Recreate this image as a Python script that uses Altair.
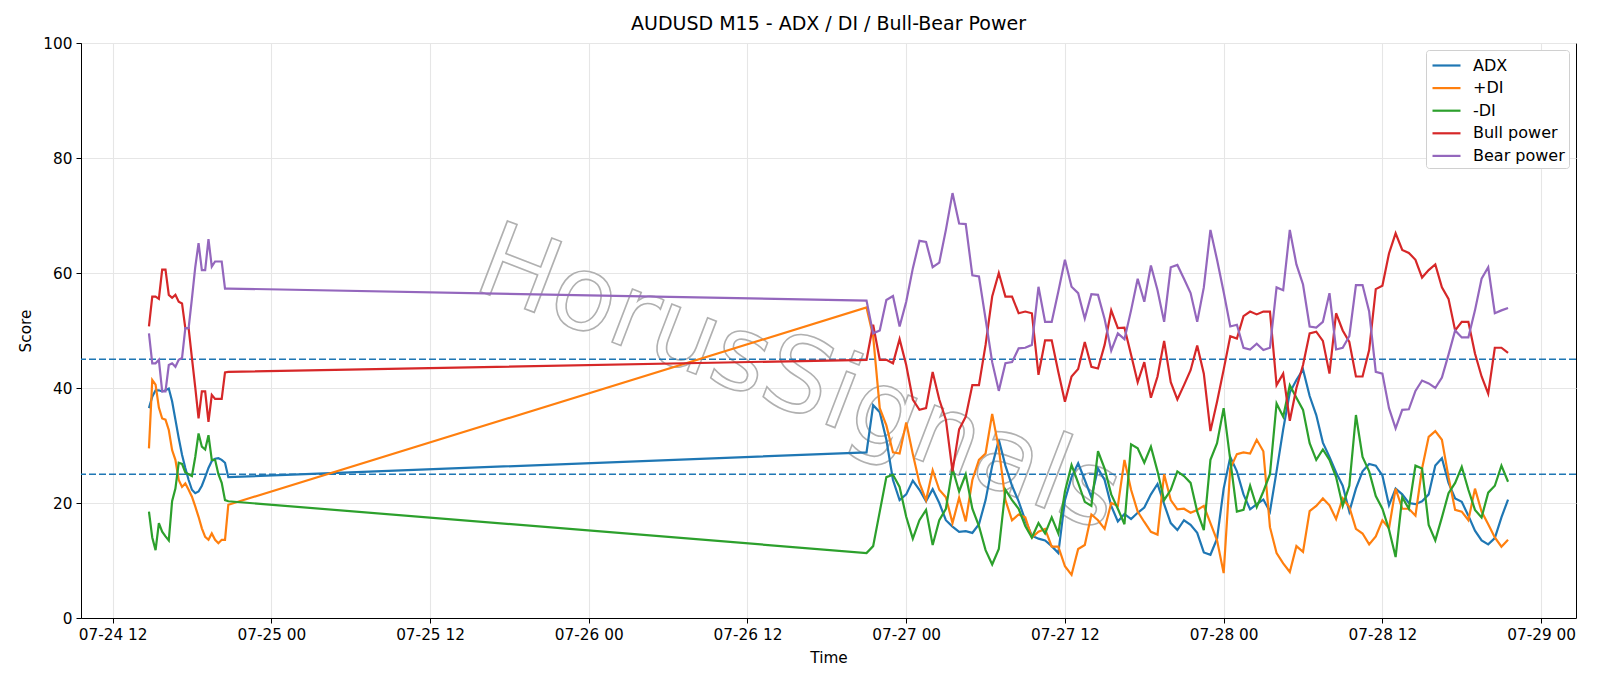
import altair as alt
import pandas as pd

# ---------------- data ----------------
series_names = ["ADX", "+DI", "-DI", "Bull power", "Bear power"]
series_colors = ["#1f77b4", "#ff7f0e", "#2ca02c", "#d62728", "#9467bd"]

# Friday session (15-minute bars, 07-24 14:45 -> 20:45 UTC)
seg1_start = "2020-07-24 14:45"
seg1_adx = [36.5, 38.5, 39.6, 39.6, 39.4, 39.6, 39.9, 37.7, 34.5, 31.3, 28.4, 26.1, 24.0,
            22.3, 21.7, 22.0, 23.0, 24.5, 26.1, 27.3, 27.7, 27.8, 27.5, 27.0, 24.5]
seg1_pdi = [29.5, 41.4, 40.6, 36.6, 34.7, 34.5, 32.7, 29.2, 27.5, 24.0, 22.8, 23.4, 22.3,
            21.1, 19.4, 17.6, 15.6, 14.1, 13.6, 14.7, 13.6, 13.0, 13.6, 13.6, 19.7]
seg1_mdi = [18.5, 14.0, 11.8, 16.5, 15.0, 14.2, 13.5, 20.3, 22.5, 27.0, 26.8, 25.3, 25.0,
            24.7, 28.0, 32.1, 29.8, 29.3, 31.8, 27.5, 27.5, 25.0, 23.5, 20.5, 20.3]
seg1_bull = [50.7, 55.9, 55.9, 55.5, 60.6, 60.6, 56.2, 55.7, 56.2, 55.0, 54.7, 50.4, 50.4,
             45.2, 40.1, 34.7, 39.4, 39.4, 34.1, 38.8, 38.1, 38.1, 38.1, 42.7, 42.8]
seg1_bear = [49.5, 44.3, 44.3, 44.9, 39.4, 39.4, 44.0, 44.3, 43.7, 44.9, 45.2, 50.4, 50.4,
             55.6, 61.0, 65.2, 60.5, 60.5, 65.9, 61.1, 62.0, 62.0, 62.0, 57.3, 57.3]

# Week session (read every 30 minutes, 07-26 21:00 -> 07-28 21:30 UTC)
seg2_start = "2020-07-26 21:00"
seg2_adx = [28.8, 37.0, 35.8, 31.0, 24.0, 20.5, 21.5, 23.9, 22.3, 20.3, 22.4, 20.0,
            17.0, 15.9, 15.0, 15.1, 14.8, 16.3, 20.5, 26.5, 31.0, 26.5, 23.0, 20.3,
            17.0, 14.3, 13.8, 13.5, 12.5, 11.3, 20.5, 24.5, 26.9, 24.0, 21.0, 26.0,
            24.0, 19.5, 16.8, 18.1, 17.2, 18.3, 19.2, 21.5, 23.3, 19.8, 16.5, 15.3,
            17.0, 16.2, 14.8, 11.4, 11.0, 13.8, 22.5, 28.0, 25.5, 21.5, 18.9, 19.8,
            20.6, 18.5, 25.5, 32.8, 39.2, 41.4, 43.2, 38.6, 35.3, 30.5, 28.0, 25.3,
            23.0, 18.5, 22.5, 25.5, 26.8, 26.5, 24.8, 19.6, 22.5, 21.5, 20.0, 19.8,
            20.3, 21.5, 26.5, 27.8, 23.5, 20.8, 20.2, 17.8, 15.2, 13.5, 12.8, 13.9, 17.5, 20.6]
seg2_pdi = [54.0, 49.0, 36.5, 33.5, 28.8, 28.6, 34.0, 28.5, 23.5, 20.5, 25.7, 22.3,
            21.0, 16.5, 20.9, 16.8, 24.0, 27.5, 28.6, 35.5, 29.5, 20.5, 17.0, 18.0,
            17.5, 14.0, 15.0, 15.5, 12.4, 12.4, 9.0, 7.5, 12.0, 12.7, 18.0, 17.0,
            15.5, 20.0, 19.5, 27.5, 22.3, 18.5, 16.7, 15.0, 14.5, 25.0, 20.5, 18.9,
            19.0, 18.3, 18.8, 19.5, 16.5, 13.5, 7.8, 26.0, 28.5, 28.8, 28.6, 31.0,
            29.0, 15.8, 11.3, 9.5, 8.0, 12.5, 11.5, 18.6, 19.5, 20.8, 19.6, 17.2,
            20.8, 19.3, 15.5, 14.7, 12.8, 14.2, 17.0, 15.6, 22.5, 19.0, 19.0, 17.8,
            26.0, 31.5, 32.5, 31.0, 24.5, 18.8, 18.5, 17.0, 22.5, 18.5, 16.3, 14.0, 12.4, 13.6]
seg2_mdi = [11.3, 12.5, 18.5, 24.5, 24.9, 22.8, 17.6, 13.8, 17.0, 18.8, 12.7, 17.0,
            19.0, 26.0, 22.0, 25.0, 19.0, 16.0, 11.8, 9.3, 12.0, 22.3, 20.5, 19.0,
            16.0, 14.0, 16.5, 14.7, 17.5, 14.7, 22.0, 26.6, 23.5, 20.2, 19.5, 29.0,
            26.0, 21.5, 19.0, 16.3, 30.2, 29.5, 27.0, 29.8, 25.5, 20.5, 22.3, 25.5,
            24.7, 23.5, 18.5, 15.3, 27.5, 30.4, 36.5, 27.5, 18.5, 18.8, 23.0, 19.3,
            22.0, 25.0, 37.3, 35.0, 40.5, 38.3, 36.2, 30.4, 27.5, 29.3, 27.5, 24.5,
            19.5, 23.0, 35.3, 28.0, 25.5, 21.2, 19.0, 15.4, 10.6, 21.0, 19.0, 26.5,
            26.0, 16.2, 13.5, 17.5, 21.7, 23.5, 26.3, 22.3, 18.8, 17.5, 21.8, 23.0, 26.5, 23.7]
seg2_bull = [44.9, 51.0, 44.9, 44.9, 44.3, 48.5, 44.0, 38.0, 36.2, 36.5, 42.8, 38.0,
             34.5, 25.5, 32.8, 35.0, 40.5, 40.5, 47.5, 55.9, 60.0, 55.9, 55.9, 53.0,
             53.3, 53.0, 42.3, 48.3, 48.3, 42.8, 37.6, 42.0, 43.3, 48.0, 43.7, 43.4,
             47.5, 53.5, 50.4, 50.5, 45.8, 41.0, 44.5, 38.3, 42.0, 48.2, 41.0, 38.0,
             40.5, 43.1, 47.4, 42.5, 32.5, 37.6, 43.2, 49.0, 48.6, 52.5, 53.3, 52.8,
             53.3, 53.3, 40.5, 42.5, 34.3, 40.0, 44.0, 49.5, 49.8, 48.2, 42.5, 53.0,
             50.0, 48.0, 42.0, 42.0, 46.6, 57.2, 57.8, 63.4, 66.9, 64.0, 63.5, 62.3,
             59.2, 60.5, 61.5, 57.5, 55.5, 50.0, 51.5, 51.5, 46.0, 42.0, 39.0, 47.0, 47.0, 46.1]
seg2_bear = [55.2, 49.5, 50.0, 55.3, 56.0, 50.7, 55.0, 60.8, 65.6, 65.4, 61.0, 61.8,
             67.5, 73.9, 68.6, 68.5, 59.6, 59.4, 52.0, 44.5, 39.5, 44.3, 44.5, 46.9,
             47.0, 47.5, 57.6, 51.5, 51.5, 56.8, 62.3, 57.6, 56.5, 52.1, 56.3, 56.2,
             52.0, 46.5, 49.5, 48.5, 53.5, 59.0, 55.0, 61.3, 57.0, 51.5, 61.0, 61.4,
             59.0, 56.5, 51.5, 57.5, 67.5, 62.3, 56.7, 50.7, 51.0, 47.0, 46.7, 47.7,
             46.6, 47.0, 57.5, 57.0, 67.5, 61.5, 58.0, 50.7, 50.5, 51.5, 56.5, 46.7,
             47.0, 49.0, 57.9, 57.9, 53.3, 42.8, 42.5, 36.5, 33.0, 36.2, 36.3, 39.5,
             41.3, 40.8, 40.0, 41.8, 45.8, 50.0, 48.8, 48.8, 53.5, 59.0, 61.0, 53.0, 53.5, 53.9]

threshold_values = [45, 25]

x_ticks = ["2020-07-24 12:00", "2020-07-25 00:00", "2020-07-25 12:00", "2020-07-26 00:00",
           "2020-07-26 12:00", "2020-07-27 00:00", "2020-07-27 12:00", "2020-07-28 00:00",
           "2020-07-28 12:00", "2020-07-29 00:00"]
x_domain = ["2020-07-24 09:36:45", "2020-07-29 02:38:15"]

watermark_text = ["HorusSignals"]
watermark_time = ["2020-07-25 15:05"]
watermark_score = [57.4]

# ---------------- build table ----------------
t1 = pd.date_range(seg1_start, periods=len(seg1_adx), freq="15min")
t2 = pd.date_range(seg2_start, periods=len(seg2_adx), freq="30min")
seg1 = [seg1_adx, seg1_pdi, seg1_mdi, seg1_bull, seg1_bear]
seg2 = [seg2_adx, seg2_pdi, seg2_mdi, seg2_bull, seg2_bear]
rows = []
for name, a, b in zip(series_names, seg1, seg2):
    for t, v in zip(t1, a):
        rows.append({"time": t.strftime("%Y-%m-%dT%H:%M:%SZ"), "series": name, "value": v})
    for t, v in zip(t2, b):
        rows.append({"time": t.strftime("%Y-%m-%dT%H:%M:%SZ"), "series": name, "value": v})
df = pd.DataFrame(rows)


def ms(s):
    return int(pd.Timestamp(s, tz="UTC").timestamp() * 1000)


tick_ms = [ms(s) for s in x_ticks]
dom_ms = [ms(s) for s in x_domain]

font = "DejaVu Sans"
fs = 15.3

x_axis = alt.Axis(values=tick_ms, labelExpr="utcFormat(datum.value, '%m-%d %H')",
                  title="Time", labelFlush=False, labelOverlap=False)
x_scale = alt.Scale(type="utc", domain=dom_ms)
y_scale = alt.Scale(domain=[0, 100], nice=False)
y_axis = alt.Axis(values=[0, 20, 40, 60, 80, 100], title="Score")

wm_df = pd.DataFrame({
    "text": watermark_text,
    "time": [pd.Timestamp(s).strftime("%Y-%m-%dT%H:%M:%SZ") for s in watermark_time],
    "value": watermark_score,
})

watermark = alt.Chart(wm_df).mark_text(
    font=font, fontSize=104, angle=21, fill="white", fillOpacity=0.4,
    stroke="#b0b0b0", strokeWidth=1.6, align="left", baseline="alphabetic",
).encode(
    x=alt.X("time:T", scale=x_scale, axis=x_axis),
    y=alt.Y("value:Q", scale=y_scale, axis=y_axis),
    text="text:N",
)

rules = alt.Chart(pd.DataFrame({"y": threshold_values})).mark_rule(
    color="#1f77b4", strokeDash=[7, 3], strokeWidth=1.5
).encode(y=alt.Y("y:Q", scale=y_scale, axis=y_axis))

lines = alt.Chart(df).mark_line(strokeWidth=2.2).encode(
    x=alt.X("time:T", scale=x_scale, axis=x_axis),
    y=alt.Y("value:Q", scale=y_scale, axis=y_axis),
    color=alt.Color(
        "series:N",
        scale=alt.Scale(domain=series_names, range=series_colors),
        legend=alt.Legend(title=None, orient="top-right", offset=7),
    ),
    detail="series:N",
)

chart = alt.layer(watermark, rules, lines).properties(
    width=1495,
    height=575,
    autosize=alt.AutoSizeParams(type="none"),
    padding={"left": 81, "top": 43, "right": 24, "bottom": 68},
    title=alt.TitleParams(
        "AUDUSD M15 - ADX / DI / Bull-Bear Power",
        fontSize=19, fontWeight="normal", font=font, anchor="middle", offset=2,
        color="black",
    ),
).configure_view(
    stroke="black", strokeWidth=1
).configure_axis(
    domainColor="black", tickColor="black", tickSize=5, labelColor="black",
    labelFont=font, labelFontSize=fs, labelPadding=4,
    titleFont=font, titleFontSize=fs, titleFontWeight="normal", titleColor="black",
    gridColor="#e6e6e6", gridWidth=1.1,
).configure_axisX(
    titlePadding=8
).configure_axisY(
    titlePadding=9
).configure_legend(
    fillColor="white", strokeColor="#d0d0d0", cornerRadius=3, padding=4,
    labelFont=font, labelFontSize=16, labelColor="black", labelOffset=15,
    symbolType="M-1.4,0H1.4", symbolStrokeWidth=2.2, symbolSize=400, symbolOffset=5,
    rowPadding=2.6,
)

chart.save("out.html", embed_options={"renderer": "svg", "actions": False})
